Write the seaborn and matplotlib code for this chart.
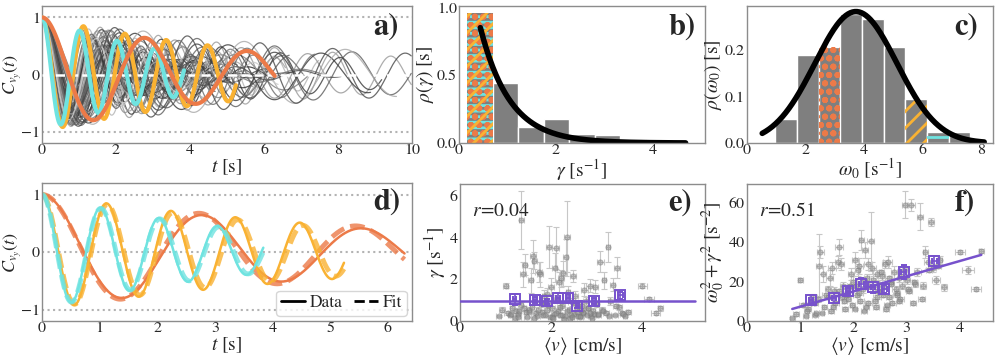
import numpy as np
import pandas as pd
import seaborn as sns
import matplotlib.pyplot as plt

# ---- colours
ORANGE = '#EC7A48'
YELLOW = '#F9B233'
CYAN = '#6FE3E0'
PURPLE = '#7752CC'
BAR_GREY = '#7f7f7f'

# ---- a) background trajectories: damping, frequency, duration, grey level
traj_gamma = [0.28, 0.33, 0.22, 0.40, 0.18, 0.30, 0.45, 0.36, 0.12, 0.42,
              0.55, 0.60, 0.70, 0.50, 0.15, 0.29, 0.35, 0.20, 0.48, 0.31,
              0.37, 0.14, 0.27, 0.40, 0.65, 0.80, 0.11, 0.21, 0.43, 0.34,
              0.25, 0.19, 0.50, 0.57, 0.13, 0.32, 0.85, 1.30, 0.38, 0.16,
              0.10, 0.34, 0.19, 0.44, 0.27, 0.17, 0.53, 1.60, 0.22, 0.38,
              0.18, 0.15, 0.33, 0.26, 0.41, 0.10, 0.47, 0.16, 0.32, 0.14]
traj_omega = [3.1, 4.2, 2.6, 3.8, 5.0, 4.6, 2.2, 3.4, 4.0, 5.6,
              3.0, 4.4, 3.6, 2.8, 3.9, 4.8, 3.3, 2.4, 4.1, 3.7,
              5.2, 3.5, 2.9, 4.3, 3.2, 4.7, 3.0, 3.6, 4.5, 2.7,
              3.8, 4.0, 3.4, 5.3, 2.5, 4.9, 3.9, 4.2, 3.1, 3.7,
              2.3, 4.6, 3.3, 3.9, 4.4, 2.9, 3.5, 4.1, 5.8, 3.6,
              4.2, 3.0, 2.6, 4.7, 3.8, 3.2, 4.0, 2.8, 4.3, 3.4]
traj_tmax = [4.5, 5.2, 6.0, 3.8, 7.5, 4.2, 5.5, 6.3, 10.0, 4.8,
             3.5, 5.0, 4.4, 6.8, 9.2, 5.6, 4.1, 7.2, 3.9, 5.3,
             4.7, 8.4, 6.1, 4.3, 3.6, 5.9, 10.0, 4.6, 5.1, 7.8,
             4.9, 6.6, 3.7, 5.4, 8.9, 4.2, 4.0, 3.8, 6.2, 5.7,
             9.6, 4.5, 5.8, 4.8, 6.4, 7.1, 4.1, 3.9, 5.0, 8.1,
             4.4, 6.9, 5.2, 4.7, 3.9, 10.0, 5.5, 6.7, 4.3, 7.4]
traj_shade = [0.20, 0.35, 0.50, 0.25, 0.70, 0.30, 0.45, 0.15, 0.60, 0.40,
              0.80, 0.28, 0.55, 0.33, 0.22, 0.65, 0.38, 0.48, 0.75, 0.26,
              0.42, 0.58, 0.18, 0.52, 0.85, 0.31, 0.36, 0.68, 0.24, 0.46,
              0.29, 0.62, 0.40, 0.53, 0.21, 0.72, 0.34, 0.57, 0.27, 0.44,
              0.66, 0.19, 0.50, 0.32, 0.78, 0.39, 0.23, 0.61, 0.47, 0.30,
              0.55, 0.25, 0.70, 0.37, 0.43, 0.28, 0.64, 0.35, 0.82, 0.41]

# ---- highlighted trajectories (orange, yellow, cyan): data and fit
hl_colors = [ORANGE, YELLOW, CYAN]
hl_tmax = [6.3, 5.25, 3.85]
hl_gamma_data = [0.16, 0.15, 0.26]
hl_omega_data = [2.27, 5.62, 6.20]
hl_gamma_fit = [0.145, 0.17, 0.27]
hl_omega_fit = [2.31, 5.55, 6.15]

# ---- b) histogram of gamma
gamma_edges = [0.17, 0.70, 1.22, 1.75, 2.27, 2.80, 3.32, 3.85, 4.37, 4.90]
gamma_heights = [0.96, 0.44, 0.12, 0.18, 0.07, 0.06, 0.03, 0.006, 0.004]
gamma_fit_amp, gamma_fit_rate, gamma_fit_span = 1.75, 1.64, (0.44, 4.67)

# ---- c) histogram of omega0
omega_edges = [0.97, 1.71, 2.45, 3.19, 3.93, 4.67, 5.41, 6.15, 6.89, 7.63]
omega_heights = [0.051, 0.19, 0.207, 0.277, 0.268, 0.207, 0.095, 0.024, 0.024]
omega_fit_amp, omega_fit_mu, omega_fit_sigma, omega_fit_span = 0.283, 3.72, 1.40, (0.52, 8.1)

# ---- e), f) per-trajectory mean speed, gamma, omega0^2 + gamma^2
v_pts = [0.85, 0.92, 1.00, 1.05, 1.10, 1.15, 1.20, 1.24, 1.28, 1.33,
         1.35, 1.38, 1.42, 1.45, 1.48, 1.52, 1.55, 1.58, 1.60, 1.63,
         1.66, 1.70, 1.73, 1.76, 1.78, 1.81, 1.84, 1.87, 1.90, 1.92,
         1.95, 1.98, 2.00, 2.03, 2.06, 2.08, 2.10, 2.13, 2.15, 2.18,
         2.20, 2.22, 2.25, 2.27, 2.30, 2.32, 2.35, 2.37, 2.40, 2.42,
         2.45, 2.48, 2.50, 2.53, 2.56, 2.58, 2.61, 2.64, 2.67, 2.70,
         2.73, 2.76, 2.79, 2.82, 2.85, 2.88, 2.91, 2.94, 2.97, 3.00,
         3.04, 3.08, 3.12, 3.16, 3.20, 3.25, 3.30, 3.35, 3.40, 3.45,
         3.50, 3.55, 3.62, 3.70, 4.00, 4.15, 4.40, 4.30, 1.30, 2.60,
         1.12, 1.27, 1.40, 1.52, 1.62, 1.72, 1.83, 1.94, 2.02, 2.11,
         2.19, 2.28, 2.36, 2.44, 2.52, 2.63, 2.71, 2.81, 2.90, 3.02,
         3.14, 3.28, 3.42, 1.86, 2.04, 2.24, 2.46, 2.66, 2.86, 3.58]
v_err = [0.05, 0.06, 0.05, 0.08, 0.05, 0.06, 0.05, 0.07, 0.05, 0.06,
         0.05, 0.07, 0.06, 0.05, 0.08, 0.05, 0.06, 0.05, 0.07, 0.05,
         0.06, 0.05, 0.08, 0.06, 0.05, 0.07, 0.05, 0.06, 0.05, 0.08,
         0.06, 0.05, 0.07, 0.05, 0.06, 0.05, 0.08, 0.06, 0.05, 0.07,
         0.05, 0.06, 0.05, 0.08, 0.05, 0.06, 0.07, 0.05, 0.06, 0.05,
         0.08, 0.06, 0.05, 0.07, 0.05, 0.06, 0.05, 0.08, 0.06, 0.05,
         0.07, 0.05, 0.06, 0.05, 0.08, 0.06, 0.05, 0.07, 0.05, 0.06,
         0.05, 0.08, 0.06, 0.05, 0.07, 0.05, 0.06, 0.05, 0.08, 0.06,
         0.05, 0.07, 0.05, 0.06, 0.10, 0.12, 0.05, 0.10, 0.05, 0.06,
         0.05, 0.06, 0.05, 0.07, 0.05, 0.06, 0.05, 0.07, 0.05, 0.06,
         0.05, 0.06, 0.05, 0.07, 0.05, 0.06, 0.05, 0.07, 0.05, 0.06,
         0.05, 0.06, 0.05, 0.07, 0.05, 0.06, 0.05, 0.07, 0.05, 0.06]
g_pts = [0.25, 0.55, 1.70, 0.40, 0.30, 0.60, 0.15, 0.50, 0.35, 0.75,
         4.85, 2.25, 2.70, 0.45, 0.20, 0.55, 1.95, 0.65, 3.10, 2.90,
         0.40, 0.25, 2.35, 2.25, 0.80, 0.45, 1.20, 0.30, 0.55, 1.30,
         3.55, 0.20, 1.65, 0.60, 0.35, 2.55, 3.50, 1.05, 0.50, 1.85,
         0.30, 2.05, 0.70, 2.30, 0.25, 3.05, 4.05, 1.40, 0.55, 0.15,
         0.90, 2.15, 0.35, 1.20, 0.60, 0.45, 0.80, 0.25, 0.70, 0.40,
         1.50, 0.95, 0.30, 0.60, 1.70, 0.25, 0.50, 0.35, 1.65, 0.80,
         0.30, 2.85, 0.55, 1.95, 0.40, 3.55, 0.95, 1.75, 0.30, 2.55,
         0.65, 0.40, 0.25, 0.45, 1.70, 1.05, 0.60, 0.40, 0.50, 0.25,
         0.35, 0.20, 0.60, 0.45, 0.15, 0.55, 0.30, 0.75, 0.20, 0.40,
         0.65, 0.10, 0.50, 0.30, 0.85, 0.20, 0.45, 0.60, 0.15, 0.35,
         0.50, 0.25, 0.70, 0.90, 0.15, 0.30, 0.20, 0.55, 0.40, 0.35]
g_err = [0.05, 0.10, 0.10, 0.10, 0.05, 0.10, 0.05, 0.10, 0.05, 0.15,
         1.40, 0.60, 0.50, 0.10, 0.05, 0.10, 0.60, 0.10, 0.80, 0.40,
         0.10, 0.05, 0.50, 0.60, 0.15, 0.10, 0.30, 0.05, 0.10, 0.30,
         1.00, 0.05, 0.40, 0.10, 0.05, 0.70, 1.00, 0.20, 0.10, 0.50,
         0.05, 0.40, 0.15, 0.60, 0.05, 0.90, 1.70, 0.30, 0.10, 0.05,
         0.20, 0.30, 0.05, 0.25, 0.10, 0.10, 0.20, 0.05, 0.10, 0.10,
         0.30, 0.20, 0.05, 0.10, 0.30, 0.05, 0.10, 0.05, 0.30, 0.15,
         0.05, 0.50, 0.10, 0.40, 0.10, 0.70, 0.20, 0.30, 0.05, 0.50,
         0.10, 0.10, 0.05, 0.10, 0.10, 0.10, 0.10, 0.10, 0.10, 0.05,
         0.05, 0.05, 0.10, 0.05, 0.05, 0.10, 0.05, 0.10, 0.05, 0.05,
         0.10, 0.05, 0.05, 0.05, 0.10, 0.05, 0.05, 0.10, 0.05, 0.05,
         0.05, 0.05, 0.10, 0.10, 0.05, 0.05, 0.05, 0.10, 0.05, 0.05]
w2_pts = [1.5, 3.5, 21.0, 8.0, 2.5, 6.0, 9.0, 12.0, 3.0, 11.0,
          28.0, 35.0, 24.0, 7.0, 13.0, 16.0, 22.0, 5.0, 27.0, 15.0,
          9.0, 30.0, 37.5, 29.0, 12.0, 18.0, 6.0, 14.0, 11.0, 17.0,
          24.0, 8.0, 20.0, 31.0, 13.0, 26.0, 28.0, 10.0, 41.0, 16.0,
          5.0, 36.0, 22.0, 29.0, 18.0, 40.5, 27.0, 21.0, 10.0, 7.0,
          24.0, 19.0, 15.0, 23.0, 13.0, 18.0, 6.0, 30.0, 12.0, 20.0,
          9.0, 25.0, 16.0, 14.0, 22.0, 11.0, 18.0, 26.0, 59.0, 21.0,
          15.0, 59.0, 9.0, 19.0, 25.0, 53.0, 18.0, 35.0, 30.0, 50.0,
          27.0, 21.0, 31.0, 17.0, 35.0, 26.0, 35.5, 16.0, 4.0, 29.0,
          5.0, 9.0, 4.0, 12.0, 7.0, 15.0, 10.0, 18.0, 6.0, 14.0,
          21.0, 9.0, 17.0, 12.0, 25.0, 8.0, 19.0, 13.0, 23.0, 16.0,
          20.0, 11.0, 26.0, 13.0, 18.0, 7.0, 15.0, 22.0, 10.0, 28.0]
w2_err = [0.5, 1, 1, 1, 0.5, 1, 1, 1.5, 0.5, 1.5,
          16, 3, 4, 1, 1, 2, 4, 1, 3, 2,
          1, 3, 4, 3, 1.5, 2, 1, 1, 1, 2,
          3, 1, 3, 4, 1, 3, 4, 1, 5, 2,
          0.5, 4, 2, 3, 2, 15, 3, 2, 1, 1,
          2, 2, 1, 2, 1, 2, 1, 3, 1, 2,
          1, 3, 2, 1, 2, 1, 2, 2, 7, 2,
          1, 3, 1, 2, 2, 7, 2, 3, 3, 2,
          2, 2, 2, 2, 1, 2, 1, 1, 0.5, 2,
          1, 1, 0.5, 1, 1, 1, 1, 1, 0.5, 1,
          1, 1, 1, 1, 1, 0.5, 1, 1, 1, 1,
          1, 1, 1, 1, 1, 0.5, 1, 1, 1, 1]

# ---- binned averages
bin_v = [1.20, 1.64, 1.90, 2.15, 2.37, 2.58, 2.94, 3.52]
bin_v_err = [0.04, 0.04, 0.04, 0.04, 0.04, 0.04, 0.04, 0.05]
bin_g = [1.04, 1.00, 0.95, 1.12, 1.10, 0.72, 0.97, 1.23]
bin_g_err = [0.25, 0.15, 0.12, 0.20, 0.20, 0.12, 0.15, 0.18]
bin_w2 = [10.5, 11.7, 15.0, 19.0, 17.0, 16.3, 24.9, 30.5]
bin_w2_err = [2.5, 2.5, 1.5, 3.0, 3.0, 2.0, 3.5, 2.5]

# linear fits
fit_e = dict(slope=0.0, icpt=0.95, span=(0.0, 5.15), r='0.04')
fit_f = dict(slope=7.73, icpt=-0.46, span=(min(v_pts), max(v_pts)), r='0.51')


def dho(t, g, w):
    """velocity autocorrelation of damped harmonic oscillator"""
    return np.exp(-g * t) * (np.cos(w * t) + g / w * np.sin(w * t))


sns.set_theme(style='white')
plt.rcParams['font.family'] = ['STIXGeneral', 'DejaVu Serif']
plt.rcParams['mathtext.fontset'] = 'stix'
plt.rcParams['hatch.linewidth'] = 2.0
plt.rcParams['axes.edgecolor'] = '0.55'
plt.rcParams['axes.linewidth'] = 1.0
plt.rcParams['xtick.labelsize'] = 11.5
plt.rcParams['ytick.labelsize'] = 11.5
plt.rcParams['axes.labelsize'] = 14
plt.rcParams['xtick.major.size'] = 0
plt.rcParams['ytick.major.size'] = 0
plt.rcParams['xtick.major.pad'] = 0.5
plt.rcParams['ytick.major.pad'] = 1.5

W, H = 997, 359
fig = plt.figure(figsize=(W / 100, H / 100), dpi=100)


def add_ax(l, r, t, b):
    return fig.add_axes([l / W, 1 - b / H, (r - l) / W, (b - t) / H])


ax_a = add_ax(42, 412, 6, 143)
ax_b = add_ax(459, 705, 6, 143)
ax_c = add_ax(747, 993, 6, 143)
ax_d = add_ax(42, 412, 183, 321)
ax_e = add_ax(460, 705, 184, 321)
ax_f = add_ax(747, 993, 184, 321)


def panel_label(ax, s, x=0.965, y=0.85):
    ax.text(x, y, s, transform=ax.transAxes, ha='right', va='center',
            fontsize=22, fontweight='bold')


# ---------------- a)
rows = []
for i, (g, w, tm) in enumerate(zip(traj_gamma, traj_omega, traj_tmax)):
    t = np.arange(0, tm, 0.02)
    rows.append(pd.DataFrame({'t': t, 'C': dho(t, g, w), 'traj': i}))
grey_df = pd.concat(rows, ignore_index=True)
grey_pal = [str(s) for s in traj_shade]
for yv in (1, -1):
    ax_a.axhline(yv, color='0.7', ls=':', lw=1.5, zorder=0)
sns.lineplot(data=grey_df, x='t', y='C', hue='traj', palette=grey_pal,
             estimator=None, errorbar=None, legend=False, lw=0.9, alpha=0.8, ax=ax_a)
ax_a.axhline(0, color='white', ls='--', lw=1.8, zorder=3)
for k in (1, 2, 0):
    t = np.arange(0, hl_tmax[k], 0.01)
    sns.lineplot(x=t, y=dho(t, hl_gamma_data[k], hl_omega_data[k]),
                 color=hl_colors[k], lw=3, ax=ax_a, zorder=4)
ax_a.set_xlim(0, 10)
ax_a.set_ylim(-1.2, 1.2)
ax_a.set_xticks([0, 2, 4, 6, 8, 10])
ax_a.set_yticks([-1, 0, 1])
ax_a.set_xlabel('$t$ [s]', labelpad=0)
ax_a.set_ylabel('$C_{v_y}(t)$', fontsize=13)
ax_a.yaxis.set_label_coords(-0.05, 0.5)
panel_label(ax_a, 'a)')

# ---------------- b)
gc = [(gamma_edges[i] + gamma_edges[i + 1]) / 2 for i in range(len(gamma_heights))]
sns.histplot(x=gc, weights=gamma_heights, bins=gamma_edges, stat='count',
             color=BAR_GREY, edgecolor='white', linewidth=1, alpha=1, ax=ax_b)
w0 = gamma_edges[1] - gamma_edges[0]
ax_b.bar(gamma_edges[0], gamma_heights[0], width=w0, align='edge', color=CYAN, lw=0)
ax_b.bar(gamma_edges[0], gamma_heights[0], width=w0, align='edge', facecolor='none',
         edgecolor=BAR_GREY, hatch='---', lw=0)
ax_b.bar(gamma_edges[0], gamma_heights[0], width=w0, align='edge', facecolor='none',
         edgecolor=ORANGE, hatch='oo', lw=0)
ax_b.bar(gamma_edges[0], gamma_heights[0], width=w0, align='edge', facecolor='none',
         edgecolor=YELLOW, hatch='//', lw=0)
gx = np.linspace(*gamma_fit_span, 200)
sns.lineplot(x=gx, y=gamma_fit_amp * np.exp(-gamma_fit_rate * gx), color='black', lw=4, ax=ax_b)
ax_b.set_xlim(0, 5.07)
ax_b.set_ylim(0, 1.01)
ax_b.set_xticks([0, 2, 4])
ax_b.set_yticks([0, 0.5, 1.0])
ax_b.set_yticklabels(['0.0', '0.5', '1.0'])
ax_b.set_xlabel(r'$\gamma$ [s$^{-1}$]', labelpad=0)
ax_b.set_ylabel(r'$\rho(\gamma)$ [s]', labelpad=1)
panel_label(ax_b, 'b)', x=0.96)

# ---------------- c)
oc = [(omega_edges[i] + omega_edges[i + 1]) / 2 for i in range(len(omega_heights))]
sns.histplot(x=oc, weights=omega_heights, bins=omega_edges, stat='count',
             color=BAR_GREY, edgecolor='white', linewidth=1, alpha=1, ax=ax_c)
for idx, col, hatch in [(2, ORANGE, 'oo'), (6, YELLOW, '//'), (7, CYAN, '--')]:
    ax_c.bar(omega_edges[idx], omega_heights[idx], width=omega_edges[idx + 1] - omega_edges[idx],
             align='edge', facecolor='none', edgecolor=col, hatch=hatch, lw=0)
ox = np.linspace(*omega_fit_span, 200)
sns.lineplot(x=ox, y=omega_fit_amp * np.exp(-(ox - omega_fit_mu) ** 2 / (2 * omega_fit_sigma ** 2)),
             color='black', lw=4, ax=ax_c)
ax_c.set_xlim(0, 8.4)
ax_c.set_ylim(0, 0.295)
ax_c.set_xticks([0, 2, 4, 6, 8])
ax_c.set_yticks([0, 0.1, 0.2])
ax_c.set_yticklabels(['0.0', '0.1', '0.2'])
ax_c.set_xlabel(r'$\omega_0$ [s$^{-1}$]', labelpad=0)
ax_c.set_ylabel(r'$\rho(\omega_0)$ [s]', labelpad=1)
panel_label(ax_c, 'c)', x=0.94)

# ---------------- d)
for yv in (1, 0, -1):
    ax_d.axhline(yv, color='0.7', ls=':', lw=1.5, zorder=0)
for k in (0, 1, 2):
    t = np.arange(0, hl_tmax[k], 0.01)
    sns.lineplot(x=t, y=dho(t, hl_gamma_fit[k], hl_omega_fit[k]), color=hl_colors[k],
                 lw=3.5, alpha=0.8, ax=ax_d).lines[-1].set_dashes((3, 1.3))
    sns.lineplot(x=t, y=dho(t, hl_gamma_data[k], hl_omega_data[k]), color=hl_colors[k],
                 lw=1.8, ax=ax_d)
ax_d.plot([], [], color='black', lw=2, label='Data')
ax_d.plot([], [], color='black', lw=2, ls='--', label='Fit')
ax_d.legend(loc='lower right', ncol=2, fontsize=12.5, handlelength=1.4, columnspacing=0.6,
            handletextpad=0.3, borderpad=0.25, borderaxespad=0.3, framealpha=0.8)
ax_d.set_xlim(0, 6.42)
ax_d.set_ylim(-1.2, 1.2)
ax_d.set_xticks(range(7))
ax_d.set_yticks([-1, 0, 1])
ax_d.set_xlabel('$t$ [s]', labelpad=0)
ax_d.set_ylabel('$C_{v_y}(t)$', fontsize=13)
ax_d.yaxis.set_label_coords(-0.05, 0.5)
panel_label(ax_d, 'd)', x=0.968, y=0.86)


# ---------------- e), f)
def scatter_panel(ax, y, yerr, by, byerr, fit):
    ax.errorbar(v_pts, y, xerr=v_err, yerr=yerr, fmt='none', ecolor='0.78',
                elinewidth=0.8, capsize=2, capthick=0.8, zorder=1)
    sns.scatterplot(x=v_pts, y=y, color='0.55', s=14, alpha=0.5, edgecolor='0.45',
                    linewidth=0.6, ax=ax, zorder=2)
    lx = np.array(fit['span'])
    sns.lineplot(x=lx, y=fit['slope'] * lx + fit['icpt'], color=PURPLE, lw=1.8, ax=ax, zorder=3)
    ax.errorbar(bin_v, by, xerr=bin_v_err, yerr=byerr, fmt='s', mfc='none', mec=PURPLE,
                ms=7, mew=1.4, ecolor=PURPLE, elinewidth=1.2, capsize=2.5, zorder=4)
    ax.text(0.05, 0.80, r'$r\!=\!%s$' % fit['r'], transform=ax.transAxes, fontsize=14,
            ha='left', va='center')
    ax.set_xlabel(r'$\langle v\rangle$ [cm/s]', labelpad=0)


scatter_panel(ax_e, g_pts, g_err, bin_g, bin_g_err, fit_e)
ax_e.set_xlim(0, 5.38)
ax_e.set_ylim(0, 6.57)
ax_e.set_xticks([0, 2, 4])
ax_e.set_yticks([0, 2, 4, 6])
ax_e.set_ylabel(r'$\gamma$ [s$^{-1}$]', labelpad=1)
panel_label(ax_e, 'e)', x=0.947, y=0.86)

scatter_panel(ax_f, w2_pts, w2_err, bin_w2, bin_w2_err, fit_f)
ax_f.set_xlim(0, 4.62)
ax_f.set_ylim(0, 69.5)
ax_f.set_xticks([0, 1, 2, 3, 4])
ax_f.set_yticks([0, 20, 40, 60])
ax_f.set_ylabel(r'$\omega_0^2+\gamma^2$ [s$^{-2}$]', labelpad=1)
panel_label(ax_f, 'f)', x=0.927, y=0.86)

fig.savefig('out.png', dpi=100)
